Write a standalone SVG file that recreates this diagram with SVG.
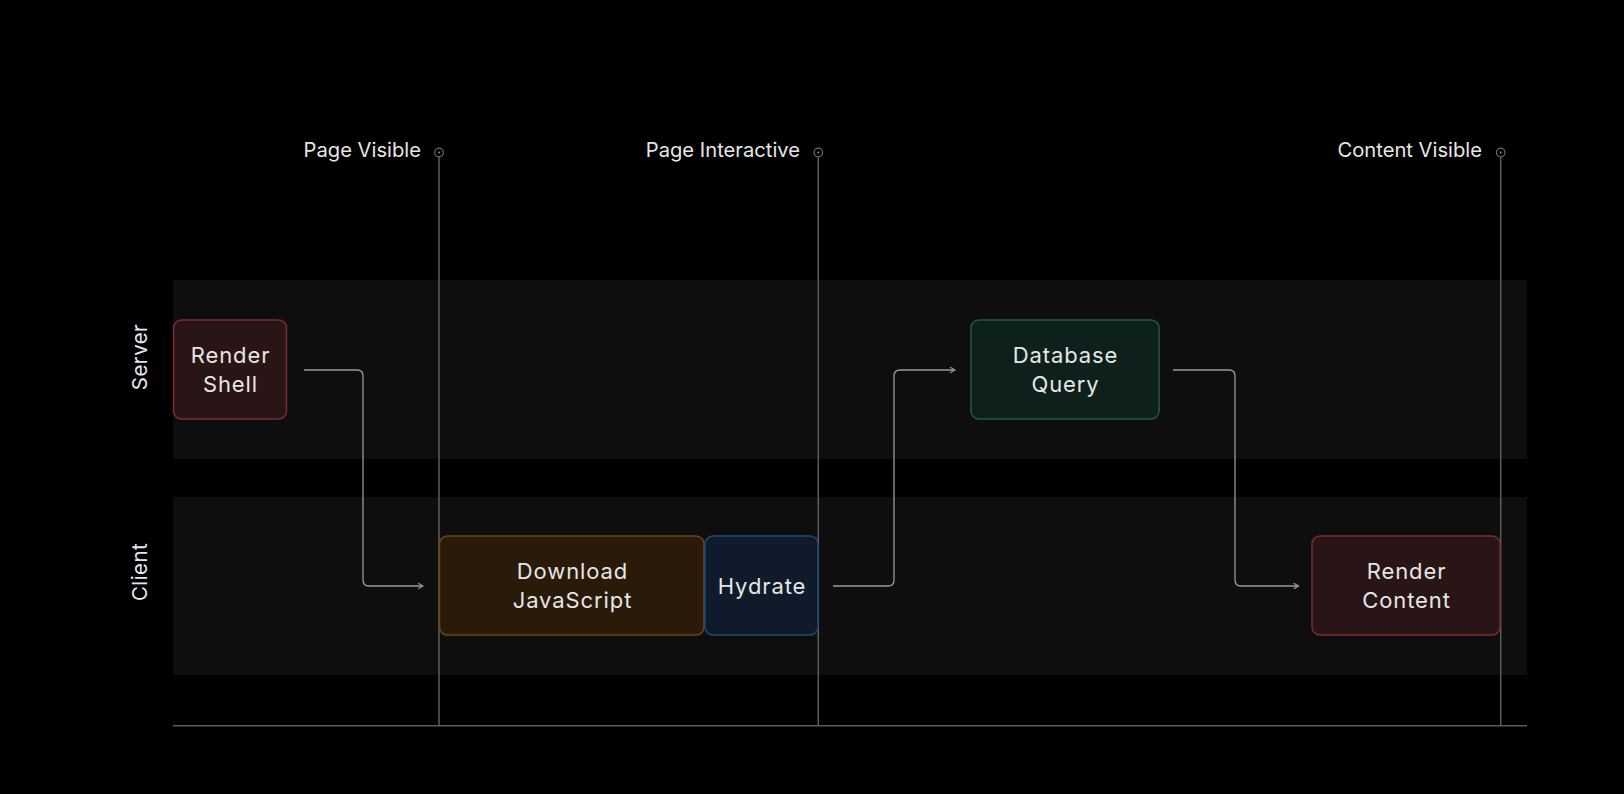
<svg xmlns="http://www.w3.org/2000/svg" width="1624" height="794" viewBox="0 0 1624 794">
<style>
.lbl{font-family:Inter,"Noto Sans","Liberation Sans",sans-serif;fill:#e6e6e6}
.ms{font-size:20.2px}
.bt{font-size:22px;letter-spacing:0.9px;text-anchor:middle}
.lane{font-size:20.5px;letter-spacing:0.4px;text-anchor:middle}
.vline{stroke:#5c5c5c;stroke-width:1.5;fill:none}
.conn{stroke:#9a9a9a;stroke-width:1.3;fill:none}
.band{fill:#0e0e0e}
</style>
<defs>
<marker id="arr" viewBox="0 0 10 10" refX="9" refY="5" markerWidth="8" markerHeight="8" markerUnits="userSpaceOnUse" orient="auto">
<path d="M3,1.5 L9,5 L3,8.5" fill="none" stroke="#9a9a9a" stroke-width="1.5"/>
</marker>
</defs>
<rect width="1624" height="794" fill="#000"/>
<g id="lanes">
<rect class="band" x="173" y="280" width="1354" height="179"/>
<rect class="band" x="173" y="497" width="1354" height="178"/>
<text class="lbl lane" transform="translate(147,357) rotate(-90)">Server</text>
<text class="lbl lane" transform="translate(147,572) rotate(-90)">Client</text>
</g>
<g id="axis">
<line x1="173" y1="725.7" x2="1527" y2="725.7" stroke="#5c5c5c" stroke-width="1.5"/>
</g>
<g id="milestones">
<g id="m-page-visible">
<text class="lbl ms" x="421" y="157" text-anchor="end">Page Visible</text>
<circle cx="439" cy="152.5" r="4.3" fill="none" stroke="#6a6a6a" stroke-width="1.2"/>
<circle cx="439" cy="152.5" r="1" fill="#8a8a8a"/>
<line class="vline" x1="439" y1="157" x2="439" y2="725.7"/>
</g>
<g id="m-page-interactive">
<text class="lbl ms" x="800" y="157" text-anchor="end">Page Interactive</text>
<circle cx="818.3" cy="152.5" r="4.3" fill="none" stroke="#6a6a6a" stroke-width="1.2"/>
<circle cx="818.3" cy="152.5" r="1" fill="#8a8a8a"/>
<line class="vline" x1="818.3" y1="157" x2="818.3" y2="725.7"/>
</g>
<g id="m-content-visible">
<text class="lbl ms" x="1482" y="157" text-anchor="end">Content Visible</text>
<circle cx="1500.7" cy="152.5" r="4.3" fill="none" stroke="#6a6a6a" stroke-width="1.2"/>
<circle cx="1500.7" cy="152.5" r="1" fill="#8a8a8a"/>
<line class="vline" x1="1500.7" y1="157" x2="1500.7" y2="725.7"/>
</g>
</g>
<g id="render-shell">
<rect x="173.5" y="320" width="113" height="99" rx="8" fill="#2a1516" stroke="#7a2c31" stroke-width="1.5"/>
<text class="lbl bt" x="230.5" y="363">Render</text>
<text class="lbl bt" x="230.5" y="391.5">Shell</text>
</g>
<g id="download-js">
<rect x="439.5" y="536" width="264.5" height="99" rx="8" fill="#2a1a09" stroke="#6a4819" stroke-width="1.5"/>
<text class="lbl bt" x="572.5" y="579">Download</text>
<text class="lbl bt" x="572.5" y="607.5">JavaScript</text>
</g>
<g id="hydrate">
<rect x="705" y="536" width="113" height="99" rx="8" fill="#0f1a2a" stroke="#1f4a7c" stroke-width="1.5"/>
<text class="lbl bt" x="762" y="593.5">Hydrate</text>
</g>
<g id="database-query">
<rect x="971" y="320" width="188" height="99" rx="8" fill="#0e201c" stroke="#205a48" stroke-width="1.5"/>
<text class="lbl bt" x="1065.5" y="363">Database</text>
<text class="lbl bt" x="1065.5" y="391.5">Query</text>
</g>
<g id="render-content">
<rect x="1312" y="536" width="188" height="99" rx="8" fill="#2a1516" stroke="#7a2c31" stroke-width="1.5"/>
<text class="lbl bt" x="1406.5" y="579">Render</text>
<text class="lbl bt" x="1406.5" y="607.5">Content</text>
</g>
<g id="connectors">
<path class="conn" d="M304,370 H357 Q363,370 363,376 V580 Q363,586 369,586 H423" marker-end="url(#arr)"/>
<path class="conn" d="M833,586 H888 Q894,586 894,580 V376 Q894,370 900,370 H955" marker-end="url(#arr)"/>
<path class="conn" d="M1173,370 H1229 Q1235,370 1235,376 V580 Q1235,586 1241,586 H1298.5" marker-end="url(#arr)"/>
</g>
</svg>
